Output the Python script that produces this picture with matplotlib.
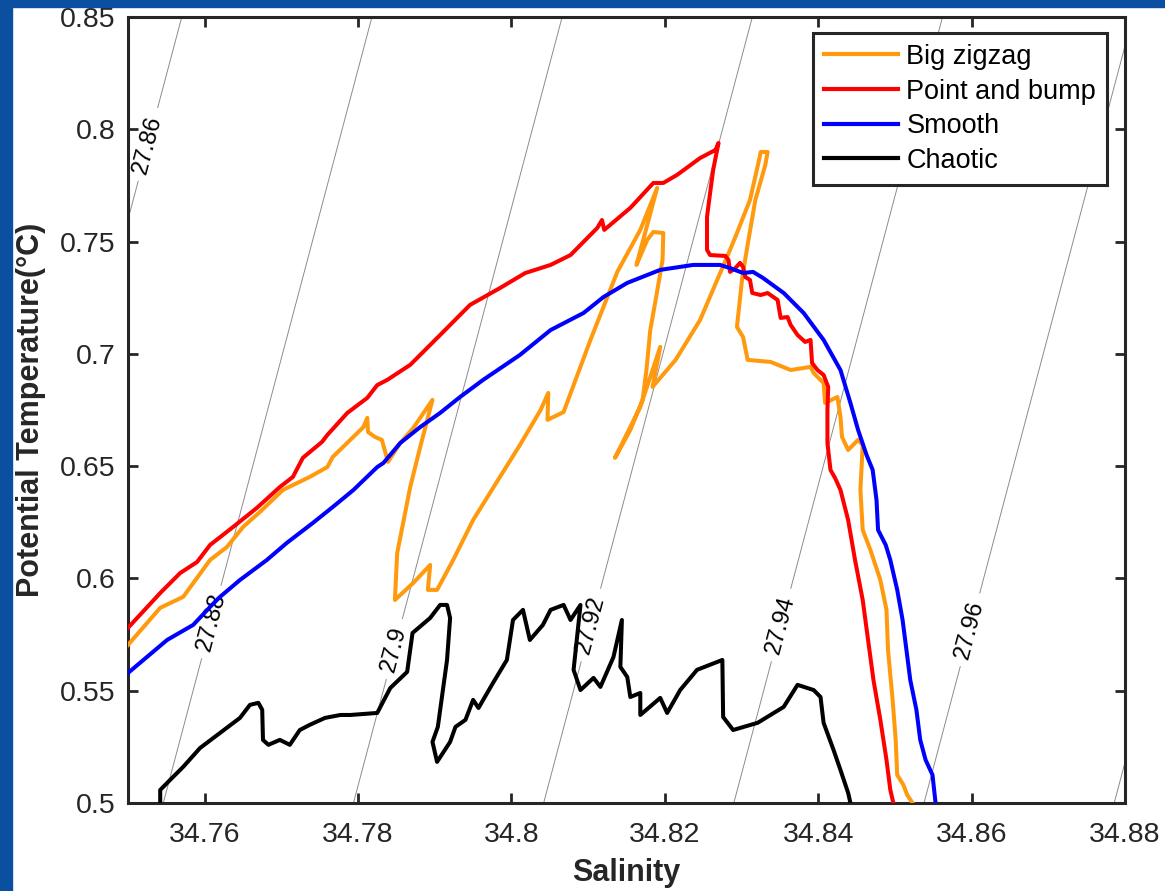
import numpy as np
import matplotlib
matplotlib.use('Agg')
import matplotlib.pyplot as plt
from matplotlib.patches import Rectangle

plt.rcParams['font.family'] = ['Liberation Sans', 'DejaVu Sans']

# ---------------- data (salinity, potential temperature) ----------------
zigzag_S = [34.7500, 34.7542, 34.7572, 34.7607, 34.7629, 34.7650, 34.7672, 34.7702, 34.7737, 34.7760,
            34.7767, 34.7807, 34.7812, 34.7813, 34.7822, 34.7831, 34.7839, 34.7855, 34.7872, 34.7897,
            34.7881, 34.7868, 34.7851, 34.7848, 34.7872, 34.7894, 34.7891, 34.7903, 34.7924, 34.7950,
            34.7985, 34.8011, 34.8038, 34.8048, 34.8047, 34.8068, 34.8103, 34.8138, 34.8168, 34.8190,
            34.8163, 34.8177, 34.8185, 34.8198, 34.8197, 34.8188, 34.8181, 34.8176, 34.8171, 34.8155,
            34.8135, 34.8168, 34.8194, 34.8184, 34.8214, 34.8246, 34.8285, 34.8294, 34.8311, 34.8322,
            34.8325, 34.8334, 34.8331, 34.8318, 34.8309, 34.8301, 34.8294, 34.8302, 34.8308, 34.8338,
            34.8364, 34.8390, 34.8394, 34.8407, 34.8409, 34.8425, 34.8429, 34.8431, 34.8439, 34.8452,
            34.8458, 34.8455, 34.8458, 34.8468, 34.8481, 34.8489, 34.8491, 34.8497, 34.8501, 34.8503,
            34.8511, 34.8516, 34.8523]
zigzag_T = [0.5704, 0.5869, 0.5918, 0.6082, 0.6140, 0.6229, 0.6296, 0.6394, 0.6452, 0.6496,
            0.6541, 0.6674, 0.6715, 0.6652, 0.6630, 0.6617, 0.6519, 0.6603, 0.6670, 0.6795,
            0.6585, 0.6407, 0.6113, 0.5904, 0.5980, 0.6060, 0.5949, 0.5949, 0.6082, 0.6260,
            0.6452, 0.6594, 0.6750, 0.6826, 0.6706, 0.6741, 0.7062, 0.7365, 0.7552, 0.7739,
            0.7396, 0.7507, 0.7543, 0.7538, 0.7418, 0.7240, 0.7106, 0.6928, 0.6795, 0.6661,
            0.6537, 0.6764, 0.7031, 0.6853, 0.6973, 0.7151, 0.7463, 0.7538, 0.7685, 0.7850,
            0.7899, 0.7899, 0.7841, 0.7685, 0.7507, 0.7342, 0.7120, 0.7075, 0.6973, 0.6964,
            0.6928, 0.6942, 0.6915, 0.6870, 0.6781, 0.6808, 0.6719, 0.6630, 0.6572, 0.6617,
            0.6594, 0.6394, 0.6216, 0.6127, 0.5993, 0.5860, 0.5682, 0.5459, 0.5281, 0.5125,
            0.5081, 0.5036, 0.5000]

bump_S = [34.7500, 34.7542, 34.7568, 34.7590, 34.7607, 34.7637, 34.7668, 34.7698, 34.7715, 34.7728,
          34.7753, 34.7760, 34.7786, 34.7812, 34.7825, 34.7838, 34.7868, 34.7907, 34.7946, 34.7985,
          34.8018, 34.8051, 34.8077, 34.8112, 34.8118, 34.8121, 34.8155, 34.8185, 34.8198, 34.8216,
          34.8246, 34.8266, 34.8270, 34.8263, 34.8259, 34.8255, 34.8255, 34.8259, 34.8279, 34.8283,
          34.8285, 34.8292, 34.8298, 34.8302, 34.8305, 34.8311, 34.8314, 34.8325, 34.8334, 34.8347,
          34.8351, 34.8360, 34.8364, 34.8373, 34.8383, 34.8390, 34.8392, 34.8399, 34.8407, 34.8413,
          34.8412, 34.8412, 34.8416, 34.8422, 34.8429, 34.8439, 34.8448, 34.8458, 34.8465, 34.8472,
          34.8481, 34.8489, 34.8494, 34.8498]
bump_T = [0.5780, 0.5935, 0.6024, 0.6073, 0.6149, 0.6229, 0.6314, 0.6407, 0.6452, 0.6537,
          0.6608, 0.6639, 0.6737, 0.6804, 0.6861, 0.6884, 0.6951, 0.7084, 0.7218, 0.7293,
          0.7360, 0.7396, 0.7440, 0.7561, 0.7596, 0.7552, 0.7650, 0.7761, 0.7761, 0.7797,
          0.7872, 0.7908, 0.7939, 0.7819, 0.7716, 0.7610, 0.7463, 0.7440, 0.7436, 0.7418,
          0.7365, 0.7382, 0.7405, 0.7387, 0.7342, 0.7329, 0.7271, 0.7262, 0.7271, 0.7240,
          0.7160, 0.7164, 0.7129, 0.7084, 0.7053, 0.7062, 0.6959, 0.6928, 0.6906, 0.6853,
          0.6750, 0.6603, 0.6483, 0.6447, 0.6394, 0.6260, 0.6082, 0.5904, 0.5726, 0.5548,
          0.5370, 0.5192, 0.5058, 0.5000]

smooth_S = [34.7500, 34.7551, 34.7585, 34.7607, 34.7620, 34.7646, 34.7681, 34.7707, 34.7741, 34.7767,
            34.7794, 34.7825, 34.7833, 34.7855, 34.7881, 34.7907, 34.7933, 34.7963, 34.8011, 34.8051,
            34.8094, 34.8120, 34.8151, 34.8194, 34.8237, 34.8272, 34.8285, 34.8302, 34.8315, 34.8328,
            34.8355, 34.8381, 34.8407, 34.8429, 34.8442, 34.8452, 34.8463, 34.8471, 34.8476, 34.8478,
            34.8488, 34.8494, 34.8503, 34.8510, 34.8515, 34.8520, 34.8528, 34.8533, 34.8540, 34.8549,
            34.8553]
smooth_T = [0.5579, 0.5726, 0.5793, 0.5873, 0.5918, 0.5993, 0.6082, 0.6158, 0.6247, 0.6318,
            0.6394, 0.6496, 0.6514, 0.6603, 0.6674, 0.6737, 0.6808, 0.6884, 0.6995, 0.7106,
            0.7182, 0.7253, 0.7316, 0.7374, 0.7396, 0.7396, 0.7382, 0.7360, 0.7365, 0.7338,
            0.7271, 0.7182, 0.7062, 0.6928, 0.6781, 0.6661, 0.6550, 0.6483, 0.6349, 0.6216,
            0.6149, 0.6082, 0.5949, 0.5815, 0.5682, 0.5548, 0.5415, 0.5281, 0.5192, 0.5125,
            0.5000]

chaotic_S = [34.7542, 34.7542, 34.7555, 34.7572, 34.7594, 34.7620, 34.7646, 34.7659, 34.7670, 34.7675,
             34.7676, 34.7683, 34.7698, 34.7711, 34.7724, 34.7737, 34.7757, 34.7777, 34.7790, 34.7825,
             34.7842, 34.7864, 34.7871, 34.7894, 34.7907, 34.7916, 34.7920, 34.7916, 34.7904, 34.7897,
             34.7903, 34.7920, 34.7927, 34.7940, 34.7950, 34.7957, 34.7976, 34.7994, 34.8002, 34.8015,
             34.8024, 34.8041, 34.8051, 34.8068, 34.8077, 34.8090, 34.8081, 34.8090, 34.8107, 34.8116,
             34.8133, 34.8144, 34.8142, 34.8151, 34.8155, 34.8168, 34.8168, 34.8194, 34.8203, 34.8220,
             34.8242, 34.8275, 34.8276, 34.8289, 34.8321, 34.8355, 34.8373, 34.8394, 34.8403, 34.8407,
             34.8420, 34.8429, 34.8439, 34.8442]
chaotic_T = [0.5000, 0.5058, 0.5103, 0.5161, 0.5245, 0.5312, 0.5379, 0.5437, 0.5446, 0.5415,
             0.5281, 0.5259, 0.5281, 0.5259, 0.5325, 0.5348, 0.5379, 0.5392, 0.5392, 0.5401,
             0.5512, 0.5584, 0.5757, 0.5824, 0.5882, 0.5882, 0.5824, 0.5637, 0.5339, 0.5272,
             0.5183, 0.5272, 0.5339, 0.5370, 0.5459, 0.5423, 0.5535, 0.5637, 0.5815, 0.5860,
             0.5726, 0.5793, 0.5860, 0.5882, 0.5815, 0.5882, 0.5593, 0.5503, 0.5557, 0.5517,
             0.5650, 0.5815, 0.5606, 0.5561, 0.5472, 0.5490, 0.5392, 0.5468, 0.5401, 0.5503,
             0.5593, 0.5637, 0.5383, 0.5325, 0.5357, 0.5428, 0.5526, 0.5503, 0.5472, 0.5357,
             0.5236, 0.5147, 0.5045, 0.5000]

series_names = ['Big zigzag', 'Point and bump', 'Smooth', 'Chaotic']
series_colors = ['#FF9A0E', '#FF0000', '#0000FF', '#000000']

density_levels = [27.86, 27.88, 27.90, 27.92, 27.94, 27.96, 27.98]
labelled_levels = [27.86, 27.88, 27.90, 27.92, 27.94, 27.96]

x_ticks = [34.76, 34.78, 34.80, 34.82, 34.84, 34.86, 34.88]
x_tick_labels = ['34.76', '34.78', '34.8', '34.82', '34.84', '34.86', '34.88']
y_ticks = [0.5, 0.55, 0.6, 0.65, 0.7, 0.75, 0.8, 0.85]
y_tick_labels = ['0.5', '0.55', '0.6', '0.65', '0.7', '0.75', '0.8', '0.85']

# linearised equation of state for the isopycnal background
SIG_REF, S_REF, T_REF = 27.88, 34.7546, 0.5
BETA, ALPHA = 0.8065, 0.0627

# ---------------- figure ----------------
fig = plt.figure(figsize=(11.65, 8.91), dpi=100)
fig.patch.set_facecolor('white')
ax = fig.add_axes([0.10987, 0.09877, 0.85579, 0.88215])

sg, tg = np.meshgrid(np.linspace(34.75, 34.88, 200), np.linspace(0.5, 0.85, 200))
sigma = SIG_REF + BETA * (sg - S_REF) - ALPHA * (tg - T_REF)
cs = ax.contour(sg, tg, sigma, levels=density_levels, colors='#8c8c8c', linewidths=0.7, zorder=1)
label_pos = [(34.7529, 0.793), (34.7607, 0.5807), (34.7851, 0.5682),
             (34.8103, 0.5793), (34.8351, 0.5793), (34.8598, 0.5771)]
ax.clabel(cs, levels=labelled_levels, manual=label_pos, inline=True, fmt='%g',
          fontsize=17, colors='black', inline_spacing=8)

curves = [(zigzag_S, zigzag_T), (bump_S, bump_T), (smooth_S, smooth_T), (chaotic_S, chaotic_T)]
for (s, t), name, col in zip(curves, series_names, series_colors):
    ax.plot(s, t, color=col, lw=2.9, label=name, zorder=3, solid_joinstyle='round')

ax.set_xlim(34.75, 34.88)
ax.set_ylim(0.5, 0.85)
ax.set_xticks(x_ticks)
ax.set_xticklabels(x_tick_labels)
ax.set_yticks(y_ticks)
ax.set_yticklabels(y_tick_labels)

dark = '#262626'
for sp in ax.spines.values():
    sp.set_linewidth(2.2)
    sp.set_color(dark)
ax.tick_params(direction='in', length=7, width=2, colors=dark, labelsize=20.5,
               top=True, right=True)
ax.tick_params(axis='x', pad=14)
ax.tick_params(axis='y', pad=9)

ax.set_xlabel('Salinity', fontsize=22, fontweight='bold', color=dark, labelpad=7)
ax.set_ylabel('Potential Temperature(°C)', fontsize=22, fontweight='bold', color=dark, labelpad=10)

leg = ax.legend(loc='upper right', bbox_to_anchor=(0.982, 0.9796), borderaxespad=0,
                fontsize=19.5, frameon=True, fancybox=False, handlelength=2.75,
                labelspacing=0.32, borderpad=0.4, handletextpad=0.3)
leg.get_frame().set_edgecolor(dark)
leg.get_frame().set_linewidth(2.2)
leg.get_frame().set_alpha(1)
for line in leg.get_lines():
    line.set_linewidth(3)

# blue slide border
fig.patches.append(Rectangle((0, 0), 12 / 1165, 1, transform=fig.transFigure,
                             color='#0b50a0', zorder=10))
fig.patches.append(Rectangle((0, 1 - 7 / 891), 1, 7 / 891, transform=fig.transFigure,
                             color='#0b50a0', zorder=10))

fig.savefig('out.png', dpi=100)
